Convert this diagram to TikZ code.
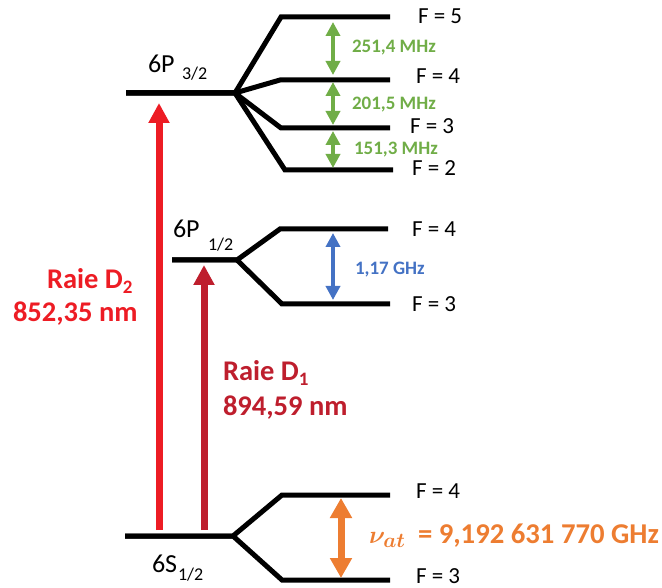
\documentclass[tikz,border=0pt]{standalone}
\usepackage{amsmath}
\usepackage{bm}
\usepackage{fontspec}
\setmainfont{Carlito}
\usetikzlibrary{arrows.meta}
\definecolor{dtwo}{HTML}{ED1C24}
\definecolor{done}{HTML}{BE1E2D}
\definecolor{hfgreen}{HTML}{70AD47}
\definecolor{hfblue}{HTML}{4472C4}
\definecolor{hforange}{HTML}{ED7D31}
\newcommand\myfs[1]{\fontsize{#1}{#1}\selectfont}
\begin{document}
\begin{tikzpicture}[x=1pt,y=-1pt,
  lvl/.style={line width=5pt,black},
  lbl/.style={anchor=base west,inner sep=0pt,outer sep=0pt},
  flbl/.style={lbl,font=\myfs{23}},
  thin2/.style={line width=3.5pt,{Triangle[width=14pt,length=14pt]}-{Triangle[width=14pt,length=14pt]}},
  gl/.style={lbl,font=\bfseries\myfs{19}},
  big/.style={lbl,font=\bfseries\myfs{28.5}}]
\useasboundingbox (0,0) rectangle (662,588);
% 6P3/2
\coordinate (p3l) at (126,93); \coordinate (p3r) at (235,93);
\coordinate (a5l) at (281,17); \coordinate (a5r) at (390,17);
\coordinate (a4l) at (280,80); \coordinate (a4r) at (390,80);
\coordinate (a3l) at (281,128); \coordinate (a3r) at (390,128);
\coordinate (a2l) at (285,170); \coordinate (a2r) at (393,170);
\draw[lvl] (p3l) -- (p3r) -- (a5l) -- (a5r);
\draw[lvl] (p3l) -- (p3r) -- (a4l) -- (a4r);
\draw[lvl] (p3l) -- (p3r) -- (a3l) -- (a3r);
\draw[lvl] (p3l) -- (p3r) -- (a2l) -- (a2r);
% 6P1/2
\coordinate (p1l) at (172,260); \coordinate (p1r) at (237,260);
\coordinate (b4l) at (280,229); \coordinate (b4r) at (388,229);
\coordinate (b3l) at (282,304); \coordinate (b3r) at (390,304);
\draw[lvl] (p1l) -- (p1r) -- (b4l) -- (b4r);
\draw[lvl] (p1l) -- (p1r) -- (b3l) -- (b3r);
% 6S1/2
\coordinate (sl) at (125,536); \coordinate (sr) at (233,536);
\coordinate (c4l) at (282,495); \coordinate (c4r) at (390,495);
\coordinate (c3l) at (282,580); \coordinate (c3r) at (390,580);
\draw[lvl] (sl) -- (sr) -- (c4l) -- (c4r);
\draw[lvl] (sl) -- (sr) -- (c3l) -- (c3r);
% D lines
\coordinate (d2s) at (159,530); \coordinate (d2e) at (159,103);
\coordinate (d1s) at (204,530); \coordinate (d1e) at (204,265);
\draw[line width=7pt,dtwo,-{Triangle[width=20pt,length=20pt]}] (d2s) -- (d2e);
\draw[line width=7pt,done,-{Triangle[width=20pt,length=20pt]}] (d1s) -- (d1e);
% hyperfine arrows
\coordinate (g1t) at (333,22); \coordinate (g1b) at (333,75);
\coordinate (g2t) at (333,82); \coordinate (g2b) at (333,125);
\coordinate (g3t) at (333,131); \coordinate (g3b) at (333,168);
\draw[thin2,hfgreen] (g1t) -- (g1b);
\draw[thin2,hfgreen] (g2t) -- (g2b);
\draw[thin2,hfgreen] (g3t) -- (g3b);
\coordinate (bt) at (333,233); \coordinate (bb) at (333,300);
\draw[thin2,hfblue] (bt) -- (bb);
\coordinate (ot) at (341,498); \coordinate (ob) at (341,578);
\draw[line width=7pt,hforange,{Triangle[width=21pt,length=20pt]}-{Triangle[width=21pt,length=20pt]}] (ot) -- (ob);
% level names
\node[lbl,font=\myfs{26}] (n6p3) at (148,73) {6P};
\node[lbl,font=\myfs{18}] (n6p3s) at (182,80) {3/2};
\node[lbl,font=\myfs{26}] (n6p1) at (173,238) {6P};
\node[lbl,font=\myfs{18}] (n6p1s) at (208,251) {1/2};
\node[lbl,font=\myfs{26}] (n6s) at (152,572) {6S};
\node[lbl,font=\myfs{18}] (n6ss) at (178,580) {1/2};
% F labels
\node[flbl] (fa5) at (418,24) {F = 5};
\node[flbl] (fa4) at (416,84) {F = 4};
\node[flbl] (fa3) at (410,134) {F = 3};
\node[flbl] (fa2) at (412,176) {F = 2};
\node[flbl] (fb4) at (412,237) {F = 4};
\node[flbl] (fb3) at (412,312) {F = 3};
\node[flbl] (fc4) at (416,498) {F = 4};
\node[flbl] (fc3) at (416,583) {F = 3};
% frequencies
\node[gl,text=hfgreen] (t1) at (352,53) {251,4 MHz};
\node[gl,text=hfgreen] (t2) at (352,110) {201,5 MHz};
\node[gl,text=hfgreen] (t3) at (354,155) {151,3 MHz};
\node[gl,text=hfblue] (t4) at (355,275) {1,17 GHz};
% D labels
\node[big,text=dtwo] (r2a) at (47,289) {Raie D\raisebox{-5pt}{\myfs{19}2}};
\node[big,text=dtwo] (r2b) at (13,322) {852,35 nm};
\node[big,text=done] (r1a) at (223,381) {Raie D\raisebox{-5pt}{\myfs{19}1}};
\node[big,text=done] (r1b) at (223,415) {894,59 nm};
% clock frequency
\node[lbl,text=hforange,font=\myfs{29}] (nu) at (369,543) {$\bm{\nu}_{\bm{at}}$};
\node[big,text=hforange,font=\bfseries\myfs{28.7}] (nut) at (418,543) {= 9,192 631 770 GHz};
\end{tikzpicture}
\end{document}
